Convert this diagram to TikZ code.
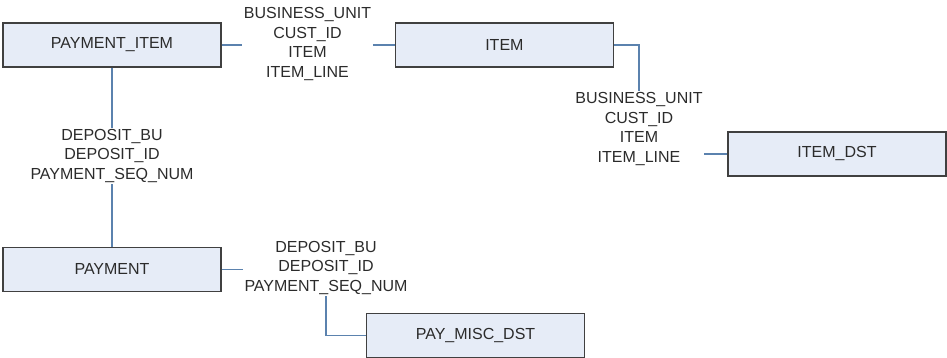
\documentclass[tikz,border=0pt]{standalone}
\usepackage{fontspec}
\setmainfont{Liberation Sans}
\usetikzlibrary{positioning}

\definecolor{boxfill}{HTML}{E6ECF7}
\definecolor{boxline}{HTML}{404040}
\definecolor{linkline}{HTML}{5B82AE}
\definecolor{txtgray}{HTML}{2B2B2B}

\begin{document}
\begin{tikzpicture}[x=1pt, y=-1pt,
    entity/.style={rectangle, draw=boxline, fill=boxfill, line width=1.4pt,
      minimum width=218pt, minimum height=44pt, inner sep=0pt,
      font=\fontsize{16}{19.5}\selectfont, text=txtgray},
    keys/.style={align=center, inner sep=1.5pt,
      font=\fontsize{16}{19.5}\selectfont, text=txtgray},
    link/.style={draw=linkline, line width=1.1pt}]

  \useasboundingbox (0,0) rectangle (947,358);

  \node[entity] (pi) at (112,45) {PAYMENT\_ITEM};
  \node[entity, right=173pt of pi] (item) {ITEM};
  \node[entity] (itemdst) at (837,154) {ITEM\_DST};
  \node[entity, below=179pt of pi] (pay) {PAYMENT};
  \node[entity] (misc) at (475.5,335.5) {PAY\_MISC\_DST};

  \node[keys] (rel1) at (307.5,44) {BUSINESS\_UNIT\\CUST\_ID\\ITEM\\ITEM\_LINE};
  \node[keys] (rel2) at (639,129) {BUSINESS\_UNIT\\CUST\_ID\\ITEM\\ITEM\_LINE};
  \node[keys] (rel3) at (112,156) {DEPOSIT\_BU\\DEPOSIT\_ID\\PAYMENT\_SEQ\_NUM};
  \node[keys] (rel4) at (326,268) {DEPOSIT\_BU\\DEPOSIT\_ID\\PAYMENT\_SEQ\_NUM};

  \draw[link] (pi.east) -- (pi.east -| rel1.west);
  \draw[link] (rel1.east |- item.west) -- (item.west);
  \draw[link] (item.east) -| (rel2.north);
  \draw[link] (itemdst.west -| rel2.east) -- (itemdst.west);
  \draw[link] (pi.south) -- (rel3.north);
  \draw[link] (rel3.south) -- (pay.north);
  \draw[link] (pay.east) -- (pay.east -| rel4.west);
  \draw[link] (rel4.south) |- (misc.west);
\end{tikzpicture}
\end{document}
